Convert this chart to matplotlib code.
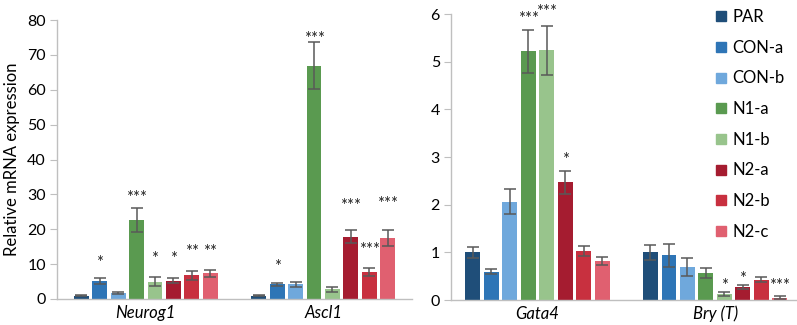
import matplotlib
matplotlib.use("Agg")
import matplotlib.pyplot as plt
import numpy as np
from matplotlib.lines import Line2D

plt.rcParams['font.family'] = ['Lato', 'DejaVu Sans']

series = ['PAR', 'CON-a', 'CON-b', 'N1-a', 'N1-b', 'N2-a', 'N2-b', 'N2-c']
colors = ['#1f4e79', '#2e75b6', '#6fa8dc', '#5a9a50', '#98c48c', '#a51c30', '#c8303f', '#e06070']

left_genes = ['Neurog1', 'Ascl1']
right_genes = ['Gata4', 'Bry (T)']

# values[gene][series]
neurog1 = [1.0, 5.2, 1.7, 22.7, 5.0, 5.2, 6.8, 7.4]
neurog1_err = [0.2, 0.85, 0.25, 3.4, 1.4, 0.7, 1.3, 1.0]
ascl1 = [1.0, 4.2, 4.2, 66.9, 2.8, 17.9, 7.7, 17.6]
ascl1_err = [0.1, 0.5, 0.8, 6.7, 0.7, 1.9, 1.05, 2.3]
gata4 = [1.0, 0.59, 2.06, 5.22, 5.24, 2.47, 1.03, 0.82]
gata4_err = [0.12, 0.05, 0.26, 0.45, 0.51, 0.24, 0.1, 0.09]
bry = [1.0, 0.94, 0.70, 0.57, 0.12, 0.27, 0.43, 0.05]
bry_err = [0.16, 0.24, 0.19, 0.1, 0.04, 0.04, 0.06, 0.03]

# significance labels and their label heights (data units)
neurog1_sig = ['', '*', '', '***', '*', '*', '**', '**']
neurog1_sig_y = [0, 12.0, 0, 30.6, 13.1, 13.1, 15.0, 15.0]
ascl1_sig = ['', '*', '', '***', '', '***', '***', '***']
ascl1_sig_y = [0, 10.9, 0, 76.2, 0, 28.4, 15.5, 28.7]
gata4_sig = ['', '', '', '***', '***', '*', '', '']
gata4_sig_y = [0, 0, 0, 6.01, 6.15, 3.06, 0, 0]
bry_sig = ['', '', '', '', '*', '*', '', '***']
bry_sig_y = [0, 0, 0, 0, 0.42, 0.55, 0, 0.42]

fig = plt.figure(figsize=(7.97, 3.25), dpi=100)
axL = fig.add_axes([57/797, 1-299/325, (412-57)/797, (299-20)/325])
axR = fig.add_axes([451/797, 1-300/325, (797-451)/797, (300-14)/325])

pitch = 0.104
width = 0.084
axis_gray = '#bfbfbf'
err_color = '#595959'


def draw(ax, genes, vals, errs, sigs, sig_ys):
    x = np.arange(len(genes))
    n = len(series)
    for i in range(n):
        xs = x + (i - (n - 1) / 2) * pitch
        v = [vals[g][i] for g in range(len(genes))]
        e = [errs[g][i] for g in range(len(genes))]
        ax.bar(xs, v, width=width, color=colors[i], label=series[i], zorder=2)
        ax.errorbar(xs, v, yerr=e, fmt='none', ecolor=err_color, elinewidth=1.1,
                    capsize=4, capthick=1.1, zorder=3)
        for g in range(len(genes)):
            s = sigs[g][i]
            if s:
                ax.annotate(s, (xs[g], sig_ys[g][i]), xytext=(0, -4),
                            textcoords='offset points', ha='center', va='center',
                            fontsize=12, color='#222222', annotation_clip=False)
    ax.set_xticks(x)
    ax.set_xticklabels(genes, fontsize=12, style='italic')
    ax.tick_params(axis='x', length=0, pad=4)
    ax.tick_params(axis='y', length=5, color=axis_gray, labelsize=11.5, pad=3)
    for sp in ['top', 'right']:
        ax.spines[sp].set_visible(False)
    for sp in ['left', 'bottom']:
        ax.spines[sp].set_color(axis_gray)
        ax.spines[sp].set_linewidth(1.0)


draw(axL, left_genes, [neurog1, ascl1], [neurog1_err, ascl1_err],
     [neurog1_sig, ascl1_sig], [neurog1_sig_y, ascl1_sig_y])
axL.set_xlim(-0.5, 1.5)
axL.set_ylim(0, 80)
axL.set_yticks(np.arange(0, 81, 10))
axL.set_ylabel('Relative mRNA expression', fontsize=12, labelpad=5)

draw(axR, right_genes, [gata4, bry], [gata4_err, bry_err],
     [gata4_sig, bry_sig], [gata4_sig_y, bry_sig_y])
axR.set_xlim(-0.486, 1.46)
axR.set_ylim(0, 6)
axR.set_yticks(np.arange(0, 7, 1))

handles = [Line2D([0], [0], marker='s', color='none', markerfacecolor=c,
                  markeredgecolor=c, markersize=6.5, linestyle='none') for c in colors]
axR.legend(handles, series, loc='upper left', bbox_to_anchor=(706/797, 1.0),
           bbox_transform=fig.transFigure, frameon=False, fontsize=12,
           handlelength=0.7, handletextpad=0.35, labelspacing=0.88,
           borderaxespad=0.15)

fig.savefig('out.png', dpi=100)
